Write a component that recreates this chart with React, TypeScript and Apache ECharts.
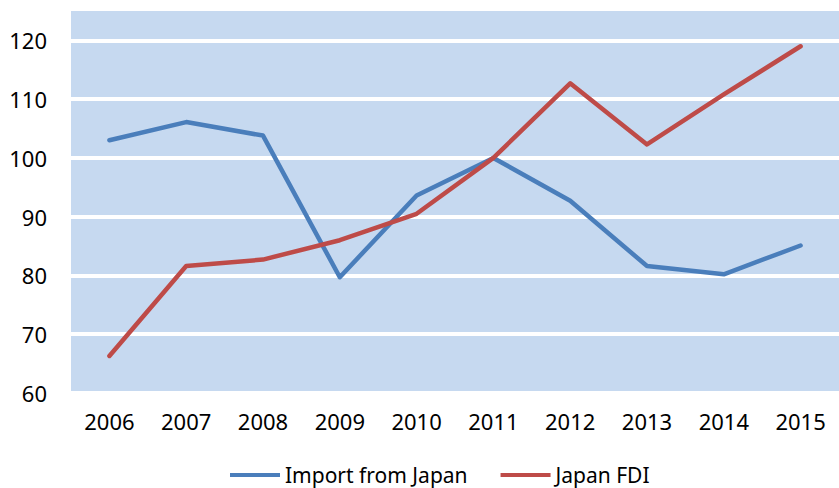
import React, { useEffect, useRef } from "react";
import * as echarts from "echarts";

const years = ["2006", "2007", "2008", "2009", "2010", "2011", "2012", "2013", "2014", "2015"];
const importFromJapan = [103.0, 106.1, 103.8, 79.7, 93.6, 100.0, 92.7, 81.6, 80.2, 85.1];
const japanFDI = [66.3, 81.6, 82.7, 86.0, 90.5, 100.0, 112.7, 102.3, 110.8, 119.0];
const seriesNames = ["Import from Japan", "Japan FDI"];

const FONT = "'Noto Sans', sans-serif";

export default function App() {
  const ref = useRef<HTMLDivElement>(null);
  useEffect(() => {
    if (!ref.current) return;
    const chart = echarts.init(ref.current, undefined, { renderer: "svg" });
    chart.setOption({
      animation: false,
      backgroundColor: "#ffffff",
      textStyle: { fontFamily: FONT },
      grid: {
        left: 71,
        right: -13,
        top: 11,
        bottom: 95,
        show: true,
        backgroundColor: "#C6D9F0",
        borderWidth: 0,
      },
      legend: {
        data: seriesNames,
        left: 230,
        top: 464,
        icon: "rect",
        itemWidth: 50,
        itemHeight: 4,
        itemGap: 33,
        padding: 0,
        textStyle: { fontFamily: FONT, fontSize: 21, lineHeight: 22, color: "#000" },
      },
      xAxis: {
        type: "category",
        data: years,
        boundaryGap: true,
        axisLine: { show: false },
        axisTick: { show: false },
        axisLabel: { fontFamily: FONT, fontSize: 22, color: "#000", margin: 17 },
        splitLine: { show: false },
      },
      yAxis: {
        type: "value",
        min: 60,
        max: 125,
        interval: 10,
        axisLine: { show: false },
        axisTick: { show: false },
        axisLabel: {
          fontFamily: FONT,
          fontSize: 22,
          color: "#000",
          margin: 24,
          showMaxLabel: false,
          formatter: (v: number) => (v % 10 === 0 ? String(v) : ""),
        },
        splitLine: {
          show: true,
          lineStyle: {
            color: ["#ffffff", "#ffffff", "#ffffff", "#ffffff", "#ffffff", "#ffffff", "#ffffff", "rgba(0,0,0,0)"],
            width: 4,
          },
        },
      },
      series: [
        {
          name: seriesNames[0],
          type: "line",
          data: importFromJapan,
          symbol: "none",
          lineStyle: { color: "#4A7EBB", width: 4.5, cap: "round", join: "round" },
          itemStyle: { color: "#4A7EBB" },
        },
        {
          name: seriesNames[1],
          type: "line",
          data: japanFDI,
          symbol: "none",
          lineStyle: { color: "#BE4B48", width: 4.5, cap: "round", join: "round" },
          itemStyle: { color: "#BE4B48" },
        },
      ],
    });
    return () => chart.dispose();
  }, []);
  return <div ref={ref} style={{ width: 839, height: 488, position: "absolute", left: 0, top: 0 }} />;
}
